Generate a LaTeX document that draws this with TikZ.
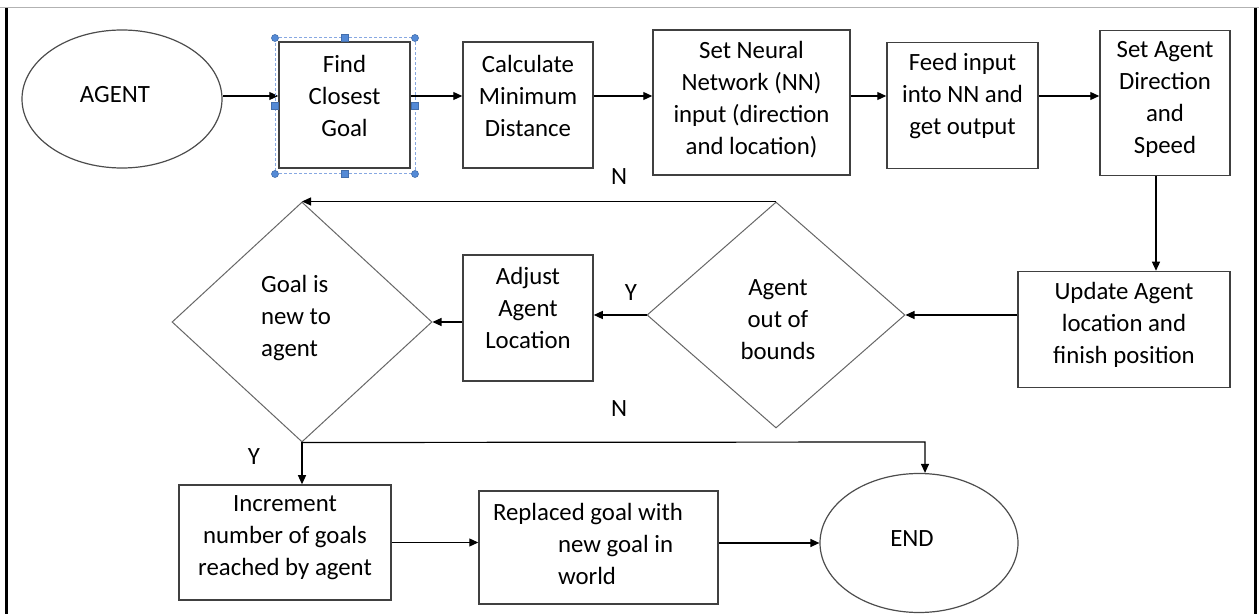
\documentclass[tikz,border=0pt]{standalone}
\usepackage{fontspec}
\setmainfont{Carlito}
\usepackage{xcolor}
\usetikzlibrary{arrows.meta,positioning,shapes.geometric}

\definecolor{selblue}{RGB}{84,138,214}
\definecolor{selline}{RGB}{135,168,226}

\begin{document}
\begin{tikzpicture}[
  x=0.5pt, y=-0.5pt,
  font=\fontsize{12.4}{16}\selectfont,
  process/.style={draw=black!75, line width=0.75pt, inner sep=0pt},
  terminal/.style={ellipse, draw=black!70, line width=0.6pt, inner sep=0pt},
  decision/.style={diamond, draw=black!60, line width=0.5pt, inner sep=0pt},
  inside/.style={align=center, inner sep=0pt},
  flow/.style={-{Triangle[length=4.5pt,width=4pt]}, line width=0.6pt, draw=black},
  branch label/.style={inner sep=0pt},
  handle/.style={fill=selblue, draw=selblue!80!black, line width=0.3pt}
]
\useasboundingbox (0,0) rectangle (1259,614);
\draw[black!30, line width=0.5pt] (0,8) -- (1259,8);
\draw[line width=1.5pt] (6,8) -- (6,614);
\draw[line width=1.5pt] (1255,8) -- (1255,614);

\coordinate (row) at (0,96);
\node[terminal, minimum width=100pt, minimum height=69pt,
  label={[inside, xshift=-3.5pt, yshift=2pt]center:AGENT}] (agent) at (122,99) {};
\node[process, minimum width=65.5pt, minimum height=63pt,
  label={[inside, yshift=4.5pt]center:Find\\Closest\\Goal}] (find) at (344.5,105) {};
\node[process, minimum width=65pt, minimum height=63pt,
  label={[inside, yshift=4.5pt]center:Calculate\\Minimum\\Distance}] (calc) at (528,105) {};
\node[process, minimum width=98.5pt, minimum height=72.5pt,
  label={[inside, yshift=1.25pt]center:Set Neural\\Network (NN)\\input (direction\\and location)}] (nnin) at (751.5,102.5) {};
\node[process, minimum width=75.5pt, minimum height=63pt,
  label={[inside, yshift=4.5pt]center:Feed input\\into NN and\\get output}] (feed) at (962.5,105.5) {};
\node[process, minimum width=65pt, minimum height=72.5pt,
  label={[inside, yshift=1.75pt]center:Set Agent\\Direction\\and\\Speed}] (dirn) at (1165,103) {};

\draw[flow] (agent.east |- row) -- (find.west |- row);
\draw[flow] (find.east |- row) -- (calc.west |- row);
\draw[flow] (calc.east |- row) -- (nnin.west |- row);
\draw[flow] (nnin.east |- row) -- (feed.west |- row);
\draw[flow] (feed.east |- row) -- (dirn.west |- row);

\draw[selline, dash pattern=on 1.5pt off 1pt, line width=0.5pt] (275,38) rectangle (415,174);
\foreach \p in {(275,38),(415,38),(275,174),(415,174)}
  \filldraw[handle] \p circle (1.75pt);
\foreach \x/\y in {345/38,345/174,275/106,415/106}
  \filldraw[handle] (\x-3.5,\y-3.5) rectangle (\x+3.5,\y+3.5);

\node[process, minimum width=106pt, minimum height=58pt,
  label={[inside, yshift=2.25pt]center:Update Agent\\location and\\finish position}] (upd) at (1124,329.5) {};
\node[decision, minimum width=129pt, minimum height=113pt,
  label={[inside, xshift=1pt, yshift=-2.25pt]center:Agent\\out of\\bounds}] (oob) at (776,315) {};
\node[process, minimum width=65pt, minimum height=63pt,
  label={[inside, yshift=5pt]center:Adjust\\Agent\\Location}] (adj) at (528,318) {};
\node[decision, minimum width=130pt, minimum height=120pt,
  label={[inside, align=left, xshift=-3pt, yshift=1.75pt]center:Goal is\\new to\\agent}] (goal) at (302,322) {};

\draw[flow] ([xshift=-4.5pt]dirn.south) -- ([xshift=-4.5pt]dirn.south |- upd.north);
\draw[flow] (oob.east -| upd.west) -- (oob.east);
\draw[flow] (oob.west) -- (oob.west -| adj.east);
\draw[flow] (goal.east -| adj.west) -- (goal.east);
\draw[flow] (oob.north) -- (goal.north);

\node[branch label] (nup) at (619,177) {N};
\node[branch label] (yout) at (631,293) {Y};
\node[branch label] (ndown) at (619,409) {N};
\node[branch label] (ynew) at (254,457) {Y};

\node[process, minimum width=106pt, minimum height=57.5pt,
  label={[inside, yshift=2.25pt]center:Increment\\number of goals\\reached by agent}] (inc) at (285,542.5) {};
\node[process, minimum width=119.5pt, minimum height=56.5pt,
  label={[inside, align=left, xshift=-5.25pt, yshift=1.75pt]center:Replaced goal with\\\hspace*{32.5pt}new goal in\\\hspace*{32.5pt}world}] (repl) at (598.5,547.5) {};
\node[terminal, minimum width=99pt, minimum height=69.5pt,
  label={[inside, xshift=-3.5pt, yshift=2pt]center:END}] (endn) at (919,543) {};
\coordinate (turn) at (925,442);

\draw[flow] (goal.south) -- (goal.south |- inc.north);
\draw[flow] (goal.south) -- (turn) -- (turn |- endn.north);
\draw[flow] (inc.east) -- (inc.east -| repl.west);
\draw[flow] (repl.east |- endn.west) -- (endn.west);
\end{tikzpicture}
\end{document}
